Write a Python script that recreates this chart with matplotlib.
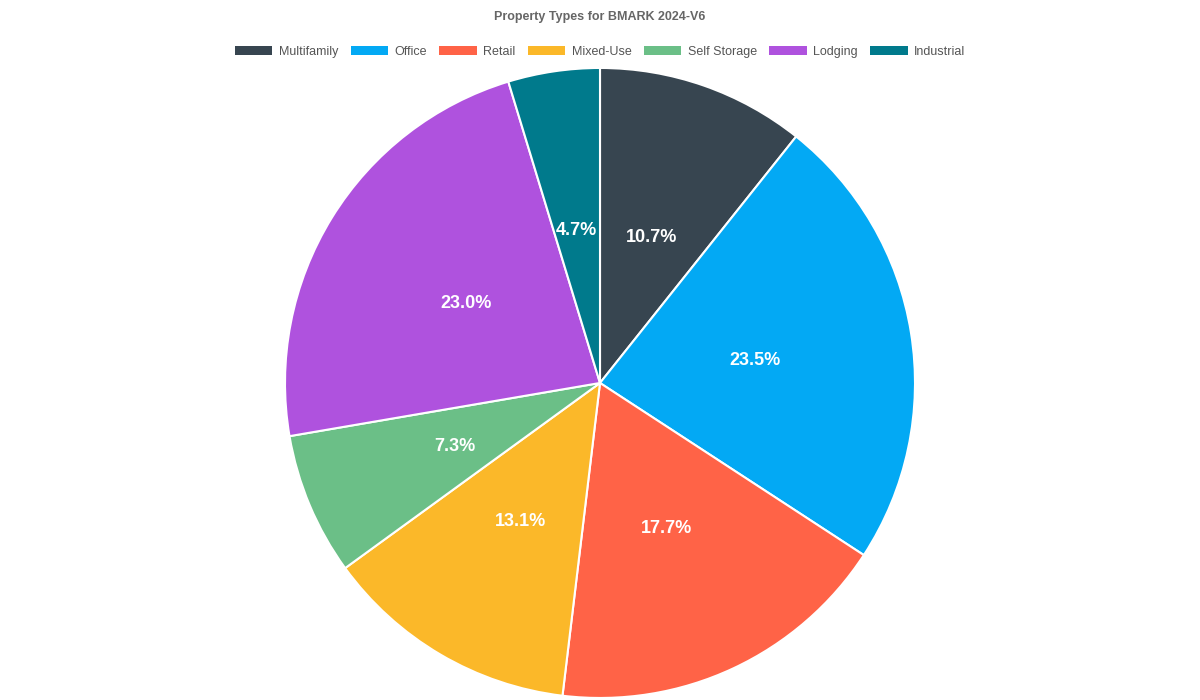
import matplotlib
matplotlib.use('Agg')
import matplotlib.pyplot as plt
from matplotlib.patches import Patch

plt.rcParams['font.family'] = ['Liberation Sans', 'DejaVu Sans']

# ── Data ──────────────────────────────────────────────────────────────────────
categories = ['Multifamily', 'Office', 'Retail', 'Mixed-Use',
              'Self Storage', 'Lodging', 'Industrial']
shares = [10.7, 23.5, 17.7, 13.1, 7.3, 23.0, 4.7]
colors = ['#374550', '#03A9F4', '#FF6347', '#FBB829',
          '#6BBF87', '#AF52DE', '#007A8C']

fig = plt.figure(figsize=(12, 7), dpi=100)
ax = fig.add_axes([0.2375, 0.0029, 0.525, 0.9])

wedges, texts, autos = ax.pie(
    shares, colors=colors, startangle=90, counterclock=False,
    autopct='%1.1f%%', pctdistance=0.5,
    wedgeprops={'edgecolor': 'white', 'linewidth': 1.5})
for t in autos:
    t.set_color('white')
    t.set_fontsize(13)
    t.set_fontweight('bold')
    x, y = t.get_position()
    t.set_position((x, y - 0.009))
ax.set_xlim(-1, 1)
ax.set_ylim(-1, 1)
ax.set_aspect('equal')

fig.text(0.5, 0.976, 'Property Types for BMARK 2024-V6', ha='center', va='center',
         fontsize=9, fontweight='bold', color='#666666')

handles = [Patch(facecolor=c, edgecolor='none') for c in colors]
fig.legend(handles, categories, loc='center', bbox_to_anchor=(0.5, 0.926),
           ncol=len(categories), frameon=False, fontsize=9,
           handlelength=3.0, handleheight=0.8, columnspacing=1.0,
           handletextpad=0.5, labelcolor='#555555')

fig.savefig('out.png', dpi=100, facecolor='white')
